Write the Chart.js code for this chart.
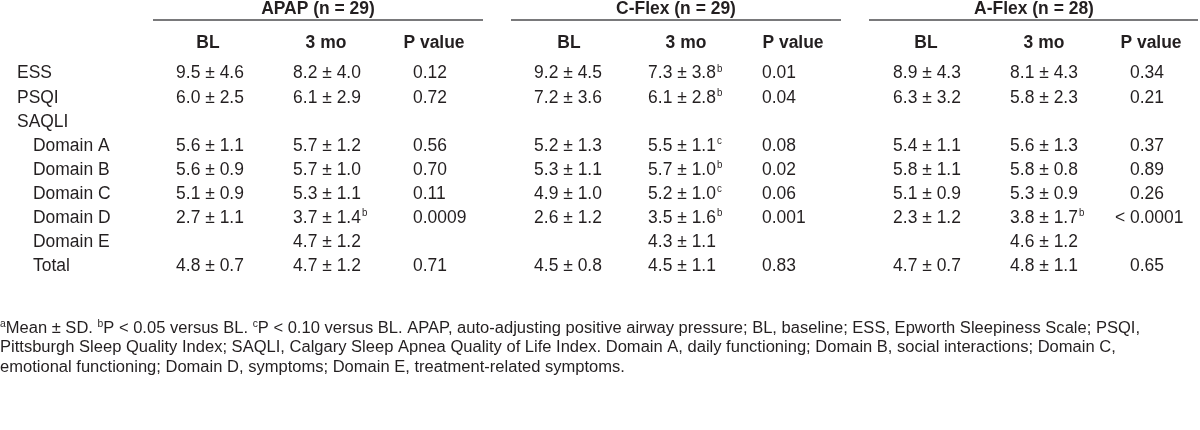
<!DOCTYPE html>
<html>
<head>
<meta charset="utf-8">
<script src="https://cdn.jsdelivr.net/npm/chart.js@4.4.1/dist/chart.umd.min.js"></script>
<style>
  body { margin: 0; background: #ffffff; }
  canvas { display: block; }
</style>
</head>
<body>
<canvas id="table" width="1200" height="430"></canvas>
<script>
// Table content
const groups = ['APAP (n = 29)', 'C-Flex (n = 29)', 'A-Flex (n = 28)'];
const subHeaders = ['BL', '3 mo', 'P value'];
const rowLabels = ['ESS', 'PSQI', 'SAQLI', 'Domain A', 'Domain B', 'Domain C', 'Domain D', 'Domain E', 'Total'];
const rowIndent = [0, 0, 0, 1, 1, 1, 1, 1, 1];

const apapBL = ['9.5 ± 4.6', '6.0 ± 2.5', '', '5.6 ± 1.1', '5.6 ± 0.9', '5.1 ± 0.9', '2.7 ± 1.1', '', '4.8 ± 0.7'];
const apap3mo = ['8.2 ± 4.0', '6.1 ± 2.9', '', '5.7 ± 1.2', '5.7 ± 1.0', '5.3 ± 1.1', '3.7 ± 1.4', '4.7 ± 1.2', '4.7 ± 1.2'];
const apap3moSup = ['', '', '', '', '', '', 'b', '', ''];
const apapP = ['0.12', '0.72', '', '0.56', '0.70', '0.11', '0.0009', '', '0.71'];

const cflexBL = ['9.2 ± 4.5', '7.2 ± 3.6', '', '5.2 ± 1.3', '5.3 ± 1.1', '4.9 ± 1.0', '2.6 ± 1.2', '', '4.5 ± 0.8'];
const cflex3mo = ['7.3 ± 3.8', '6.1 ± 2.8', '', '5.5 ± 1.1', '5.7 ± 1.0', '5.2 ± 1.0', '3.5 ± 1.6', '4.3 ± 1.1', '4.5 ± 1.1'];
const cflex3moSup = ['b', 'b', '', 'c', 'b', 'c', 'b', '', ''];
const cflexP = ['0.01', '0.04', '', '0.08', '0.02', '0.06', '0.001', '', '0.83'];

const aflexBL = ['8.9 ± 4.3', '6.3 ± 3.2', '', '5.4 ± 1.1', '5.8 ± 1.1', '5.1 ± 0.9', '2.3 ± 1.2', '', '4.7 ± 0.7'];
const aflex3mo = ['8.1 ± 4.3', '5.8 ± 2.3', '', '5.6 ± 1.3', '5.8 ± 0.8', '5.3 ± 0.9', '3.8 ± 1.7', '4.6 ± 1.2', '4.8 ± 1.1'];
const aflex3moSup = ['', '', '', '', '', '', 'b', '', ''];
const aflexP = ['0.34', '0.21', '', '0.37', '0.89', '0.26', '< 0.0001', '', '0.65'];

// footnote lines, [text, isSuperscript]
const footnoteLines = [
    [['a', true], ['Mean ± SD. ', false], ['b', true], ['P < 0.05 versus BL. ', false], ['c', true],
     ['P < 0.10 versus BL. APAP, auto-adjusting positive airway pressure; BL, baseline; ESS, Epworth Sleepiness Scale; PSQI,', false]],
    [['Pittsburgh Sleep Quality Index; SAQLI, Calgary Sleep Apnea Quality of Life Index. Domain A, daily functioning; Domain B, social interactions; Domain C,', false]],
    [['emotional functioning; Domain D, symptoms; Domain E, treatment-related symptoms.', false]]
];

// Layout (page units = pixels of the 1200x430 frame)
const TEXT = '#231f20';
const RULE = '#4d4d4f';
const FONT = '"Liberation Sans", Arial, sans-serif';
const BODY_SIZE = 18;
const BODY_SQUEEZE = 0.97;
const FOOT_SIZE = 16;
const FOOT_WIDTH = 1140;

const groupY = 8;
const ruleY = 20;
const subY = 42;
const rowY = rowLabels.map((_, i) => 72 + i * 24.1);
const footY = [327, 346.5, 366];

const groupCenter = [318, 676, 1034];
const groupRule = [[153, 483], [511, 841], [869, 1198]];
const subCenter = [[208, 326, 434], [569, 686, 793], [926, 1044, 1151]];
const valueCenter = [[210, 327], [568, 682], [927, 1044]];
const pLeft = [413, 762, 1130];
const labelX = [17, 33];

// Build the datasets: one per column, points sit where the text goes
function column(label, x, texts, sups, align) {
    return {
        label: label,
        type: 'scatter',
        textAlign: align,
        data: texts.map((t, i) => ({ x: x, y: rowY[i], text: t, sup: sups ? sups[i] : '' }))
            .filter(p => p.text !== ''),
        pointRadius: 0
    };
}

const datasets = [];

datasets.push({
    label: 'rows', type: 'scatter', textAlign: 'left', pointRadius: 0,
    data: rowLabels.map((t, i) => ({ x: labelX[rowIndent[i]], y: rowY[i], text: t, sup: '' }))
});

groups.forEach((g, gi) => {
    datasets.push({
        label: g, type: 'scatter', textAlign: 'center', bold: true, pointRadius: 0,
        data: [{ x: groupCenter[gi], y: groupY, text: g, sup: '' }]
    });
    datasets.push({
        label: g + ' rule', type: 'line', showLine: true, pointRadius: 0,
        borderColor: RULE, borderWidth: 1.5,
        data: groupRule[gi].map(x => ({ x: x, y: ruleY }))
    });
    datasets.push({
        label: g + ' sub', type: 'scatter', textAlign: 'center', bold: true, pointRadius: 0,
        data: subHeaders.map((s, si) => ({ x: subCenter[gi][si], y: subY, text: s, sup: '' }))
    });
});

datasets.push(column('APAP BL', valueCenter[0][0], apapBL, null, 'center'));
datasets.push(column('APAP 3 mo', valueCenter[0][1], apap3mo, apap3moSup, 'center'));
datasets.push(column('APAP P', pLeft[0], apapP, null, 'left'));
datasets.push(column('C-Flex BL', valueCenter[1][0], cflexBL, null, 'center'));
datasets.push(column('C-Flex 3 mo', valueCenter[1][1], cflex3mo, cflex3moSup, 'center'));
datasets.push(column('C-Flex P', pLeft[1], cflexP, null, 'left'));
datasets.push(column('A-Flex BL', valueCenter[2][0], aflexBL, null, 'center'));
datasets.push(column('A-Flex 3 mo', valueCenter[2][1], aflex3mo, aflex3moSup, 'center'));
datasets.push(column('A-Flex P', pLeft[2], aflexP, null, 'decimal'));

datasets.push({
    label: 'footnote', type: 'scatter', textAlign: 'left', footnote: true, pointRadius: 0,
    data: footnoteLines.map((segs, i) => ({ x: 0, y: footY[i], segs: segs }))
});

// Draw the text of every cell at the position the scales give its point
const tableText = {
    id: 'tableText',
    afterDatasetsDraw(chart) {
        const ctx = chart.ctx;
        ctx.save();
        ctx.fillStyle = TEXT;
        ctx.textBaseline = 'alphabetic';

        // footnote squeeze: fit first line to the measured width
        let w0 = 0;
        footnoteLines[0].forEach(([t, s]) => {
            ctx.font = (s ? Math.round(FOOT_SIZE * 0.6) : FOOT_SIZE) + 'px ' + FONT;
            w0 += ctx.measureText(t).width;
        });
        const footSqueeze = FOOT_WIDTH / w0;

        chart.data.datasets.forEach((ds, di) => {
            if (ds.type === 'line') return;
            const meta = chart.getDatasetMeta(di);
            meta.data.forEach((el, j) => {
                const raw = ds.data[j];
                if (ds.footnote) {
                    const base = el.y + FOOT_SIZE * 0.36;
                    ctx.save();
                    ctx.translate(el.x, base);
                    ctx.scale(footSqueeze, 1);
                    let cx = 0;
                    raw.segs.forEach(([t, s]) => {
                        const sz = s ? Math.round(FOOT_SIZE * 0.6) : FOOT_SIZE;
                        ctx.font = sz + 'px ' + FONT;
                        ctx.fillText(t, cx, s ? -FOOT_SIZE * 0.36 : 0);
                        cx += ctx.measureText(t).width;
                    });
                    ctx.restore();
                    return;
                }
                ctx.font = (ds.bold ? 'bold ' : '') + BODY_SIZE + 'px ' + FONT;
                const w = ctx.measureText(raw.text).width * BODY_SQUEEZE;
                let left = el.x;
                if (ds.textAlign === 'center') left = el.x - w / 2;
                if (ds.textAlign === 'decimal' && raw.text.startsWith('< ')) {
                    left = el.x - ctx.measureText('< ').width * BODY_SQUEEZE;
                }
                const base = el.y + BODY_SIZE * 0.36;
                ctx.save();
                ctx.translate(left, base);
                ctx.scale(BODY_SQUEEZE, 1);
                ctx.fillText(raw.text, 0, 0);
                if (raw.sup) {
                    const tw = ctx.measureText(raw.text).width;
                    ctx.font = Math.round(BODY_SIZE * 0.55) + 'px ' + FONT;
                    ctx.fillText(raw.sup, tw + 1, -BODY_SIZE * 0.38);
                }
                ctx.restore();
            });
        });
        ctx.restore();
    }
};

new Chart(document.getElementById('table'), {
    type: 'scatter',
    data: { datasets: datasets },
    options: {
        responsive: false,
        animation: false,
        events: [],
        layout: { padding: 0 },
        plugins: {
            legend: { display: false },
            tooltip: { enabled: false }
        },
        scales: {
            x: { type: 'linear', min: 0, max: 1200, display: false },
            y: { type: 'linear', min: 0, max: 430, reverse: true, display: false }
        }
    },
    plugins: [tableText]
});
</script>
</body>
</html>
